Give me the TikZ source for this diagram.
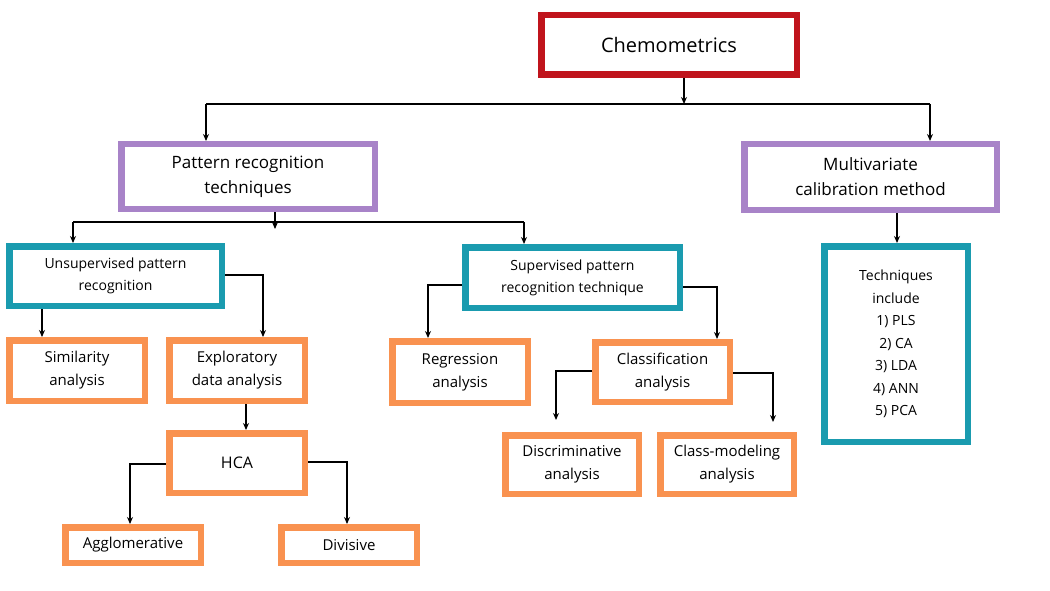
\documentclass[tikz,border=0pt]{standalone}
\usepackage{fontspec}
\setmainfont{Open Sans}
\usetikzlibrary{arrows.meta}
\definecolor{cred}{HTML}{C0141C}
\definecolor{cpur}{HTML}{A883C8}
\definecolor{cteal}{HTML}{1A9BAF}
\definecolor{corg}{HTML}{F99250}
\begin{document}
\begin{tikzpicture}[x=1pt,y=-1pt,
  bx/.style={draw,line width=6.5pt,inner sep=0pt,align=center,font=\fontsize{15}{19}\selectfont},
  ln/.style={line width=1.8pt,-{Stealth[length=7pt,width=6pt]}},
  pl/.style={line width=1.8pt}]
\useasboundingbox[fill=white] (0,0) rectangle (1050,591);
\newcommand{\bx}[7]{\node[bx,draw=#6,minimum width={#3-#2-6.5},minimum height={#5-#4-6.5},#7] (#1) at ({(#2+#3)/2},{(#4+#5)/2}) {};}
\bx{chem}{538}{800}{12}{78}{cred}{font=\fontsize{20}{24}\selectfont}
\node[font=\fontsize{20}{24}\selectfont] at (chem) {Chemometrics};
\bx{pat}{118}{378}{141}{212}{cpur}{}
\node[align=center,font=\fontsize{17}{25}\selectfont] at (pat) {Pattern recognition\\techniques};
\bx{mul}{741}{1000}{141}{213}{cpur}{}
\node[align=center,font=\fontsize{17}{25}\selectfont] at (mul) {Multivariate\\calibration method};
\bx{uns}{6}{225}{243}{309}{cteal}{}
\node[align=center,font=\fontsize{14}{22}\selectfont] at (uns) {Unsupervised pattern\\recognition};
\bx{sup}{462}{683}{244}{311}{cteal}{}
\node[align=center,font=\fontsize{14}{22}\selectfont] at (sup) {Supervised pattern\\recognition technique};
\bx{tec}{821}{971}{243}{445}{cteal}{}
\node[align=center,font=\fontsize{14}{22.5}\selectfont] at (tec) {Techniques\\include\\1) PLS\\2) CA\\3) LDA\\4) ANN\\5) PCA};
\bx{sim}{6}{148}{337}{404}{corg}{}
\node[align=center,font=\fontsize{15}{23}\selectfont] at (sim) {Similarity\\analysis};
\bx{exp}{166}{308}{337}{404}{corg}{}
\node[align=center,font=\fontsize{15}{23}\selectfont] at (exp) {Exploratory\\data analysis};
\bx{reg}{389}{531}{338}{406}{corg}{}
\node[align=center,font=\fontsize{15}{23}\selectfont] at (reg) {Regression\\analysis};
\bx{cla}{592}{733}{339}{405}{corg}{}
\node[align=center,font=\fontsize{15}{23}\selectfont] at (cla) {Classification\\analysis};
\bx{hca}{166}{308}{430}{496}{corg}{}
\node[font=\fontsize{16}{20}\selectfont] at (hca) {HCA};
\bx{dis}{502}{642}{432}{497}{corg}{}
\node[align=center,font=\fontsize{15}{23}\selectfont] at (dis) {Discriminative\\analysis};
\bx{cmo}{657}{797}{432}{497}{corg}{}
\node[align=center,font=\fontsize{15}{23}\selectfont] at (cmo) {Class-modeling\\analysis};
\bx{agg}{62}{204}{524}{566}{corg}{}
\node[font=\fontsize{15}{20}\selectfont] at (agg) {Agglomerative};
\bx{div}{278}{420}{524}{566}{corg}{}
\node[font=\fontsize{15}{20}\selectfont] at (div) {Divisive};
% connectors
\coordinate (c1) at (684,104);
\draw[ln] (chem.south -| c1) -- (c1);
\draw[pl] (206,104) -- (930,104);
\draw[ln] (206,104) -- (pat.north -| 206,0);
\draw[ln] (930,104) -- (mul.north -| 930,0);
\coordinate (c2) at (275,229);
\draw[pl] (pat.south -| c2) -- (275,222);
\draw[ln] (275,222) -- (c2);
\draw[pl] (73,222) -- (524,222);
\draw[ln] (73,222) -- (uns.north -| 73,0);
\draw[ln] (524,222) -- (sup.north -| 524,0);
\draw[ln] (897,213) -- (tec.north -| 897,0);
\draw[ln] (42,309) -- (sim.north -| 42,0);
\draw[ln] (225,275) -| (exp.north -| 263,0);
\draw[ln] (246,404) -- (hca.north -| 246,0);
\draw[ln] (hca.west |- 0,464) -| (agg.north -| 130,0);
\draw[ln] (hca.east |- 0,462) -| (div.north -| 347,0);
\draw[ln] (sup.west |- 0,285) -| (reg.north -| 428,0);
\draw[ln] (sup.east |- 0,287) -| (cla.north -| 717,0);
\draw[ln] (cla.west |- 0,371) -| (556,420);
\draw[ln] (cla.east |- 0,373) -| (773,422);
\end{tikzpicture}
\end{document}
